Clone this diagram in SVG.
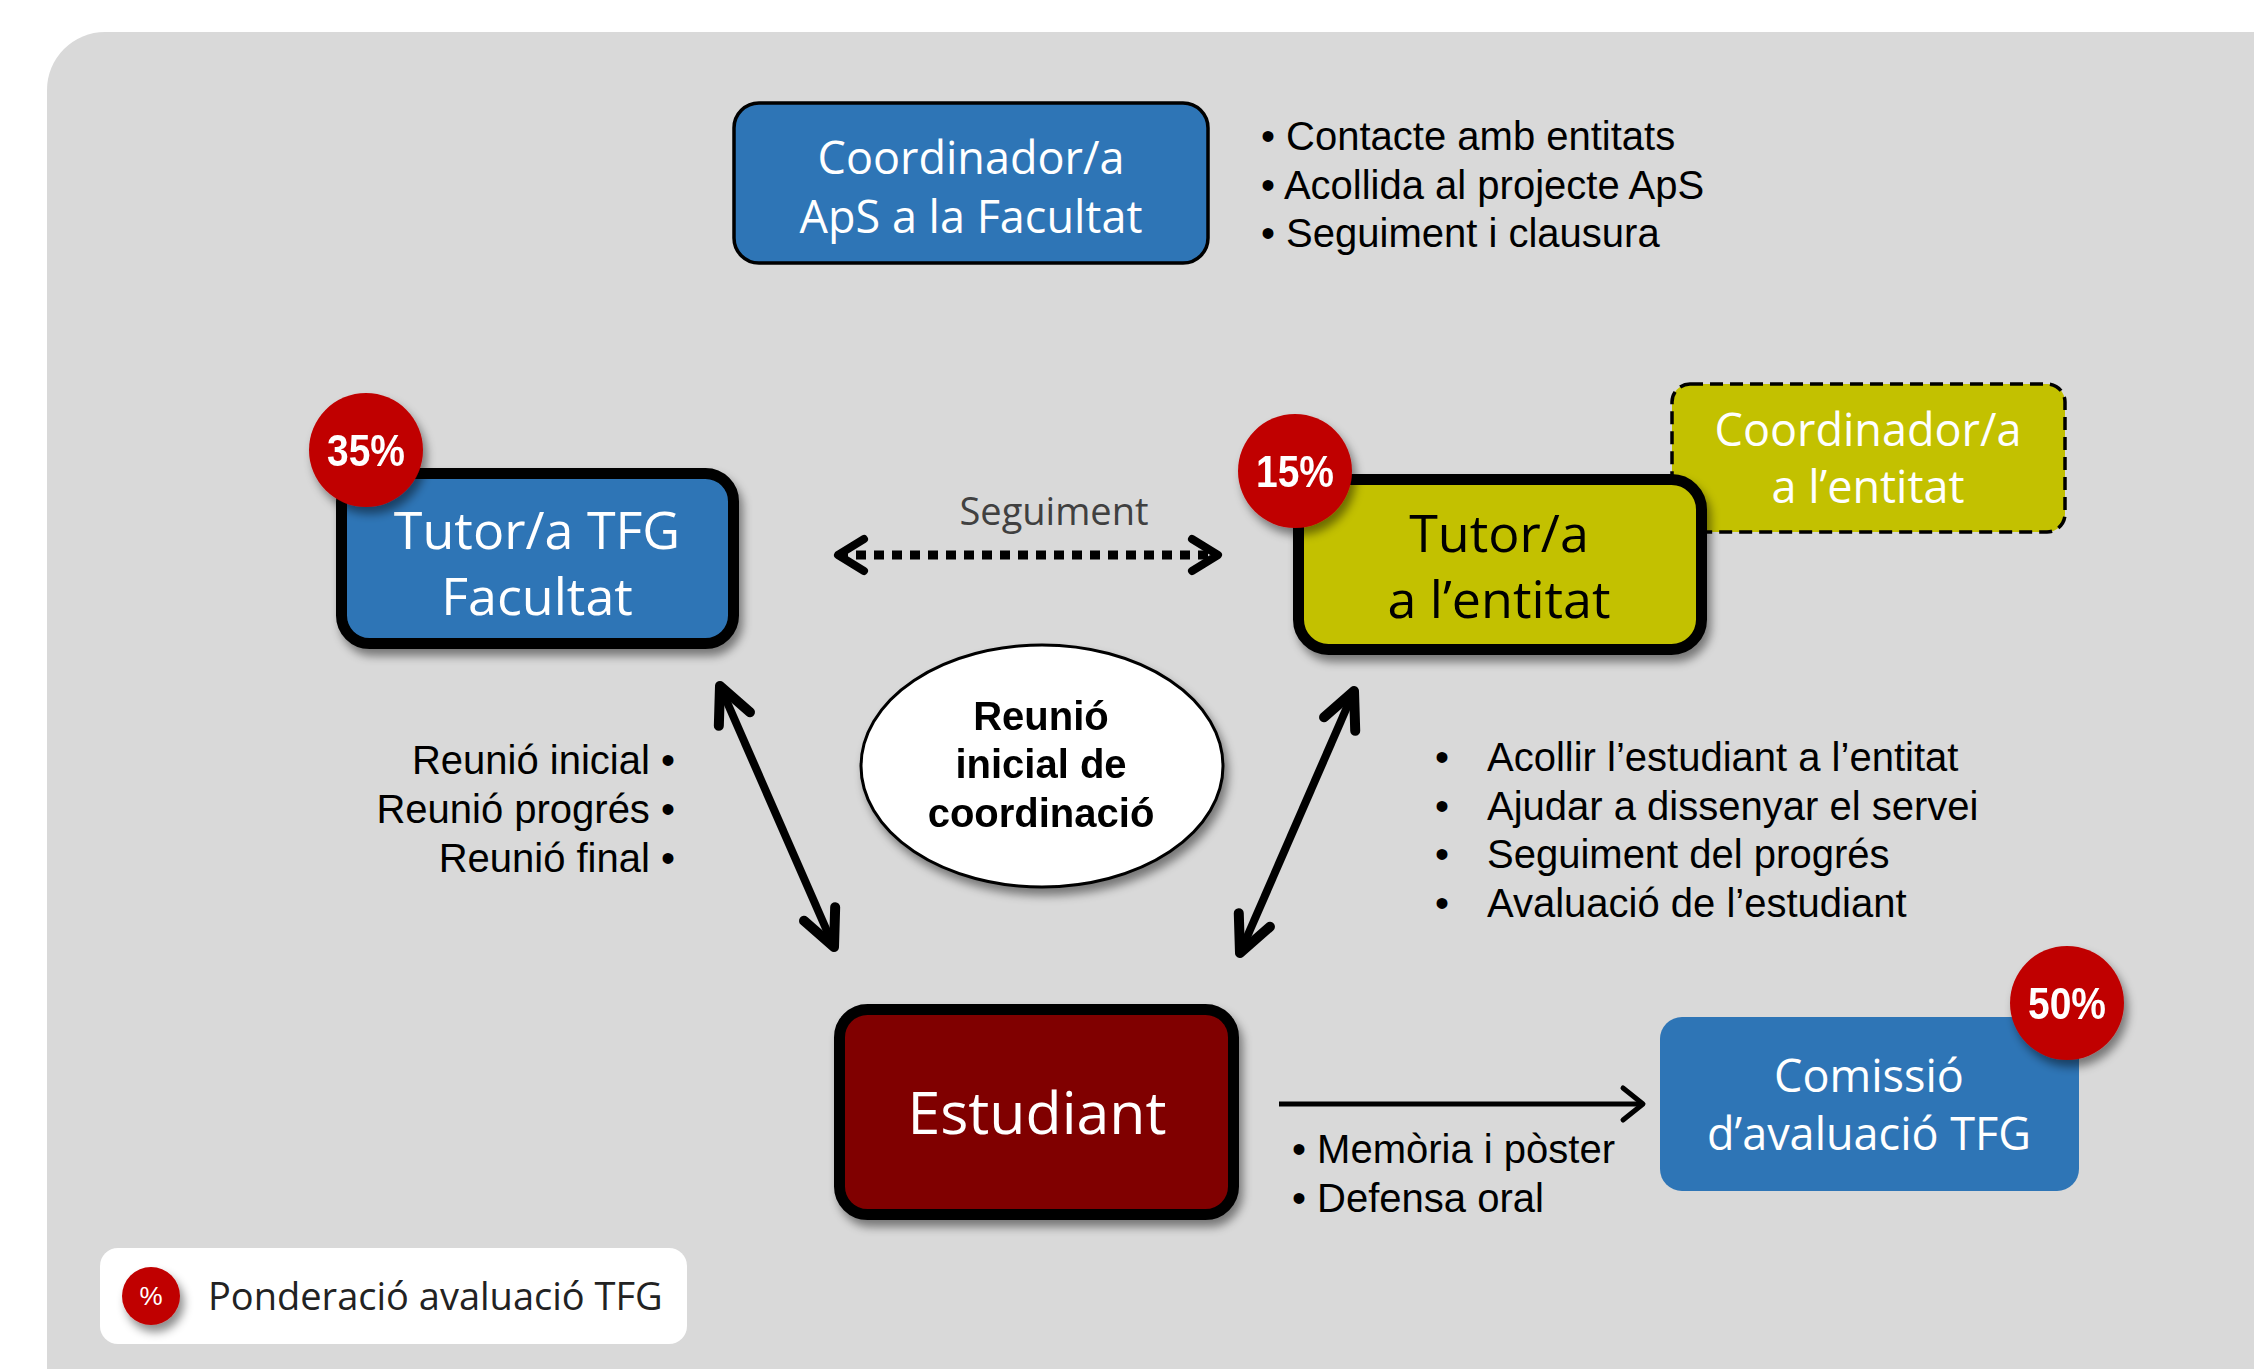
<svg xmlns="http://www.w3.org/2000/svg" width="2254" height="1369" viewBox="0 0 2254 1369">
<style>
.bul{font-family:"Liberation Sans",Arial,sans-serif;font-size:40px;fill:#000}
.seg{font-family:"Open Sans","Noto Sans",sans-serif}
.badge{font-family:"Liberation Sans",Arial,sans-serif;font-weight:bold;font-size:44px;fill:#fff}
.wt{fill:#fff}
</style>
<defs>
<filter id="sh" x="-20%" y="-20%" width="150%" height="160%">
<feDropShadow dx="4" dy="7" stdDeviation="5" flood-color="#000" flood-opacity="0.45"/>
</filter>
<marker id="hBig" markerUnits="userSpaceOnUse" orient="auto-start-reverse" overflow="visible" markerWidth="1" markerHeight="1" refX="0" refY="0">
<path d="M-36,-17 L0,0 L-36,17" fill="none" stroke="#000" stroke-width="10" stroke-dasharray="none" stroke-linecap="round" stroke-linejoin="round"/>
</marker>
<marker id="hDot" markerUnits="userSpaceOnUse" orient="auto-start-reverse" overflow="visible" markerWidth="1" markerHeight="1" refX="0" refY="0">
<path d="M-26,-16 L0,0 L-26,16" fill="none" stroke="#000" stroke-width="8" stroke-dasharray="none" stroke-linecap="round" stroke-linejoin="round"/>
</marker>
<marker id="hThin" markerUnits="userSpaceOnUse" orient="auto" overflow="visible" markerWidth="1" markerHeight="1" refX="0" refY="0">
<path d="M-20,-16 L0,0 L-20,16" fill="none" stroke="#000" stroke-width="5" stroke-dasharray="none" stroke-linecap="round" stroke-linejoin="round"/>
</marker>
</defs>

<rect x="0" y="0" width="2254" height="1369" fill="#fff"/>
<rect id="panel" x="47" y="32" width="2300" height="1400" rx="58" fill="#d9d9d9"/>

<g id="coord-facultat">
<rect x="734" y="103" width="474" height="160" rx="25" fill="#2e75b6" stroke="#000" stroke-width="3.5"/>
<text class="seg wt" font-size="45" text-anchor="middle" x="971" y="174">Coordinador/a</text>
<text class="seg wt" font-size="45" text-anchor="middle" x="971" y="233">ApS a la Facultat</text>
</g>
<g id="coord-facultat-tasks">
<text class="bul" x="1261" y="150">• Contacte amb entitats</text>
<text class="bul" x="1261" y="199">• Acollida al projecte ApS</text>
<text class="bul" x="1261" y="247">• Seguiment i clausura</text>
</g>

<g id="tutor-tfg" filter="url(#sh)">
<rect x="341.5" y="473.5" width="392" height="170" rx="28" fill="#2e75b6" stroke="#000" stroke-width="11"/>
<text class="seg wt" font-size="52" text-anchor="middle" x="537" y="549">Tutor/a TFG</text>
<text class="seg wt" font-size="52" text-anchor="middle" x="537" y="615">Facultat</text>
</g>
<g id="badge-35" filter="url(#sh)">
<circle cx="366" cy="450" r="57" fill="#c00000"/>
<text class="badge" text-anchor="middle" x="366" y="466" textLength="78" lengthAdjust="spacingAndGlyphs">35%</text>
</g>

<g id="coord-entitat">
<rect x="1672" y="384" width="393" height="148" rx="18" fill="#c3c100" stroke="#000" stroke-width="3.5" stroke-dasharray="13 7"/>
<text class="seg wt" font-size="45" text-anchor="middle" x="1868" y="446">Coordinador/a</text>
<text class="seg wt" font-size="45" text-anchor="middle" x="1868" y="503">a l’entitat</text>
</g>

<g id="tutor-entitat" filter="url(#sh)">
<rect x="1298.5" y="479.5" width="403" height="170" rx="30" fill="#c3c100" stroke="#000" stroke-width="11"/>
<text class="seg" font-size="52" fill="#000" text-anchor="middle" x="1499" y="552">Tutor/a</text>
<text class="seg" font-size="52" fill="#000" text-anchor="middle" x="1499" y="618">a l’entitat</text>
</g>
<g id="badge-15" filter="url(#sh)">
<circle cx="1295" cy="471" r="57" fill="#c00000"/>
<text class="badge" text-anchor="middle" x="1295" y="487" textLength="78" lengthAdjust="spacingAndGlyphs">15%</text>
</g>

<g id="reunio" filter="url(#sh)">
<ellipse cx="1042" cy="766" rx="181" ry="121" fill="#fff" stroke="#000" stroke-width="3"/>
<text class="bul" font-weight="bold" text-anchor="middle" x="1041" y="730">Reunió</text>
<text class="bul" font-weight="bold" text-anchor="middle" x="1041" y="778">inicial de</text>
<text class="bul" font-weight="bold" text-anchor="middle" x="1041" y="827">coordinació</text>
</g>

<g id="tutor-tfg-tasks">
<text class="bul" text-anchor="end" x="675" y="774">Reunió inicial •</text>
<text class="bul" text-anchor="end" x="675" y="823">Reunió progrés •</text>
<text class="bul" text-anchor="end" x="675" y="872">Reunió final •</text>
</g>

<g id="tutor-entitat-tasks">
<text class="bul" x="1435" y="771">•</text><text class="bul" x="1487" y="771">Acollir l’estudiant a l’entitat</text>
<text class="bul" x="1435" y="820">•</text><text class="bul" x="1487" y="820">Ajudar  a dissenyar el servei</text>
<text class="bul" x="1435" y="868">•</text><text class="bul" x="1487" y="868">Seguiment del progrés</text>
<text class="bul" x="1435" y="917">•</text><text class="bul" x="1487" y="917">Avaluació de l’estudiant</text>
</g>

<g id="estudiant" filter="url(#sh)">
<rect x="839.5" y="1009.5" width="394" height="205" rx="28" fill="#800000" stroke="#000" stroke-width="11"/>
<text class="seg wt" font-size="59" text-anchor="middle" x="1037" y="1134">Estudiant</text>
</g>

<g id="estudiant-lliurables">
<text class="bul" x="1292" y="1163">• Memòria i pòster</text>
<text class="bul" x="1292" y="1212">• Defensa oral</text>
</g>

<g id="comissio">
<rect x="1660" y="1017" width="419" height="174" rx="22" fill="#2e75b6"/>
<text class="seg wt" font-size="45" text-anchor="middle" x="1869" y="1092">Comissió</text>
<text class="seg wt" font-size="45" text-anchor="middle" x="1869" y="1150">d’avaluació TFG</text>
</g>
<g id="badge-50" filter="url(#sh)">
<circle cx="2067" cy="1003" r="57" fill="#c00000"/>
<text class="badge" text-anchor="middle" x="2067" y="1019" textLength="78" lengthAdjust="spacingAndGlyphs">50%</text>
</g>

<g id="connectors" fill="none" stroke="#000">
<line x1="838" y1="555" x2="1218" y2="555" stroke-width="9" stroke-dasharray="10 8" marker-start="url(#hDot)" marker-end="url(#hDot)"/>
<text class="seg" font-size="38" fill="#404040" stroke="none" text-anchor="middle" x="1054" y="525">Seguiment</text>
<line x1="720" y1="686" x2="834" y2="947" stroke-width="8" marker-start="url(#hBig)" marker-end="url(#hBig)"/>
<line x1="1354" y1="691" x2="1240" y2="953" stroke-width="8" marker-start="url(#hBig)" marker-end="url(#hBig)"/>
<line x1="1279" y1="1104" x2="1643" y2="1104" stroke-width="5" marker-end="url(#hThin)"/>
</g>

<g id="legend">
<rect x="100" y="1248" width="587" height="96" rx="18" fill="#fff"/>
<circle cx="151" cy="1296" r="29" fill="#c00000" filter="url(#sh)"/>
<text x="151" y="1305" font-family="Liberation Sans, Arial, sans-serif" font-size="26" fill="#fff" text-anchor="middle">%</text>
<text class="seg" font-size="38" fill="#222" x="208" y="1310">Ponderació avaluació TFG</text>
</g>
</svg>
